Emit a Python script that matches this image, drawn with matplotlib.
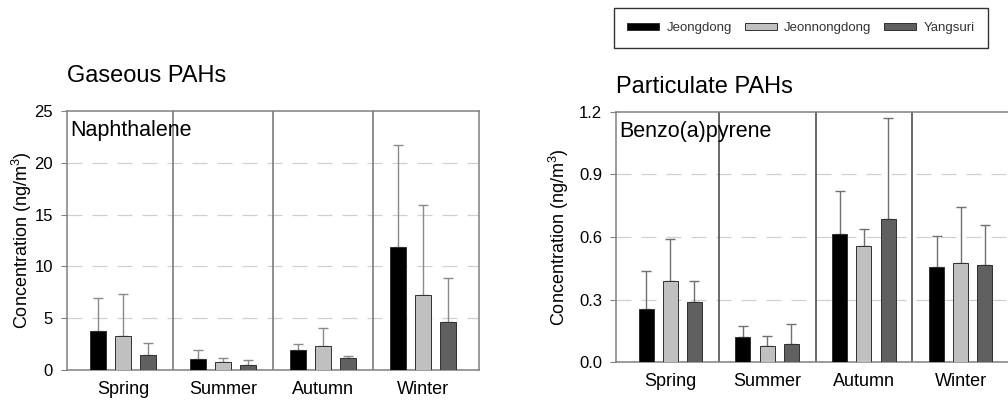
import numpy as np
import matplotlib
matplotlib.use("Agg")
import matplotlib.pyplot as plt
from matplotlib.patches import Patch

plt.rcParams['font.family'] = ['Liberation Sans', 'DejaVu Sans']
plt.rcParams['mathtext.default'] = 'regular'

# datos
seasons = ["Spring", "Summer", "Autumn", "Winter"]
sites = ["Jeongdong", "Jeonnongdong", "Yangsuri"]
colores = ["#000000", "#c0c0c0", "#606060"]

# Naphthalene (gas), media y limite superior de la barra de error
naph = [[3.8, 1.03, 1.97, 11.86],
        [3.3, 0.8, 2.29, 7.22],
        [1.42, 0.45, 1.16, 4.6]]
naph_top = [[6.93, 1.9, 2.55, 21.7],
            [7.3, 1.2, 4.03, 15.9],
            [2.6, 0.93, 1.32, 8.89]]

# Benzo(a)pyrene (particulado)
bap = [[0.253, 0.118, 0.616, 0.456],
       [0.39, 0.077, 0.558, 0.475],
       [0.286, 0.088, 0.685, 0.464]]
bap_top = [[0.438, 0.174, 0.822, 0.606],
           [0.592, 0.126, 0.64, 0.744],
           [0.39, 0.182, 1.171, 0.659]]

fig = plt.figure(figsize=(10.08, 4.01), dpi=100)
W, H = 1008.0, 401.0

def panel(rect, medias, tops, ymax, yticks, fmt, etiqueta, titulo, ecol, sep_col, tpad, lpad):
    ax = fig.add_axes(rect)
    x = np.arange(len(seasons))
    off = [-0.25, 0.0, 0.25]
    for i in range(3):
        m = np.array(medias[i])
        err = np.array(tops[i]) - m
        ax.bar(x + off[i], m, width=0.155, color=colores[i], edgecolor="#303030",
               linewidth=0.7, zorder=3)
        ax.errorbar(x + off[i], m, yerr=[np.zeros_like(err), err], fmt="none",
                    ecolor=ecol, elinewidth=1.0, capsize=3.5, capthick=1.0, zorder=2)
    ax.set_xlim(-0.56, 3.56)
    ax.set_ylim(0, ymax)
    ax.set_yticks(yticks)
    ax.set_yticklabels([fmt % v for v in yticks])
    ax.set_xticks(x)
    ax.set_xticklabels(seasons, fontsize=13)
    ax.tick_params(axis="x", length=0, pad=8)
    ax.tick_params(axis="y", labelsize=12, length=4, width=0.8, color="#808080", pad=6)
    for v in yticks[1:-1]:
        ax.axhline(v, color="#d0d0d0", linewidth=0.9, linestyle=(0, (12, 8)), zorder=0)
    for s in [0.5, 1.5, 2.5]:
        ax.axvline(s, color=sep_col, linewidth=1.1, zorder=1)
    for sp in ax.spines.values():
        sp.set_color("#808080")
        sp.set_linewidth(1.1)
    ax.set_ylabel("Concentration (ng/m$^3$)", fontsize=13, labelpad=lpad)
    ax.text(0.008, 0.965, etiqueta, transform=ax.transAxes, fontsize=15.5,
            ha="left", va="top")
    ax.set_title(titulo, fontsize=17, loc="left", pad=tpad)
    return ax

ax1 = panel([67 / W, 1 - 370 / H, 412 / W, 259 / H], naph, naph_top, 25,
            [0, 5, 10, 15, 20, 25], "%d", "Naphthalene", "Gaseous PAHs",
            "#8a8a8a", "#707070", 21, 0)
ax2 = panel([616 / W, 1 - 362 / H, 399 / W, 250 / H], bap, bap_top, 1.2,
            [0.0, 0.3, 0.6, 0.9, 1.2], "%.1f", "Benzo(a)pyrene", "Particulate PAHs",
            "#707070", "#404040", 14, 6)
ax2.title.set_position((-0.008, 1.0))

handles = [Patch(facecolor=c, edgecolor="#303030", linewidth=0.7) for c in colores]
leg = fig.legend(handles, sites, ncol=3, loc="center", bbox_to_anchor=(801 / W, 1 - 28 / H),
                 fontsize=9.5, frameon=True, fancybox=False, edgecolor="black",
                 handlelength=2.4, handleheight=0.45, handletextpad=0.55,
                 columnspacing=1.0, borderpad=1.05, labelcolor="#333333")
leg.get_frame().set_linewidth(1.0)

fig.savefig("out.png", dpi=100)
